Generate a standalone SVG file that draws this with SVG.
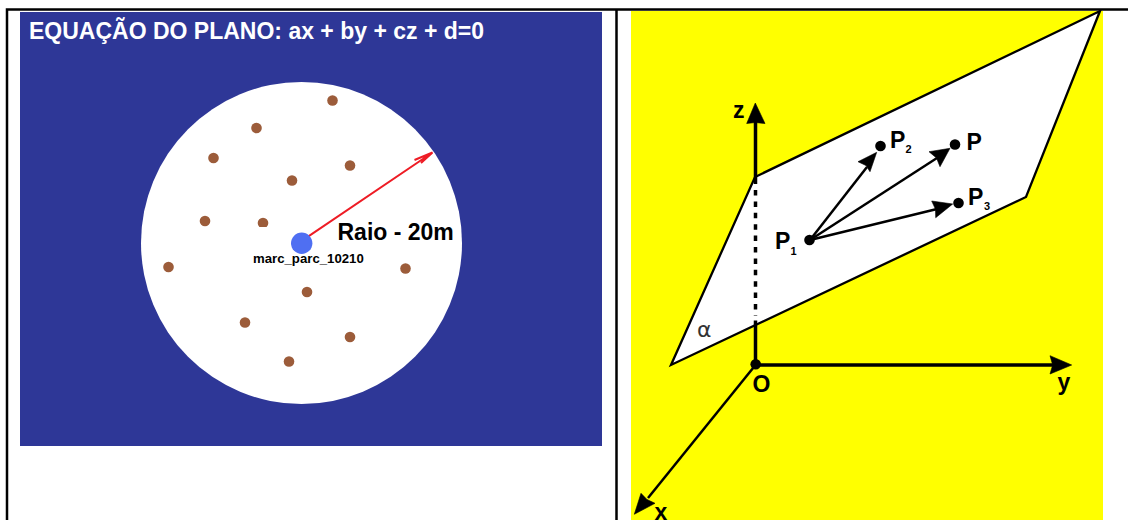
<svg xmlns="http://www.w3.org/2000/svg" width="1128" height="520" viewBox="0 0 1128 520">
<style>
.s{font-family:"Liberation Sans",Arial,sans-serif;font-weight:bold;fill:#000}
.d{fill:#9c5c3a}
.l{stroke:#000;fill:none}
.h{fill:#000;stroke:#000;stroke-width:.6}
</style>
<rect width="1128" height="520" fill="#fff"/>
<g id="table">
<path d="M7 520V9.500H1128M616.500 9.500V520" stroke="#000" stroke-width="2.500" fill="none"/>
</g>
<g id="left-panel">
<rect x="20" y="12" width="582" height="434" fill="#2e3797"/>
<ellipse cx="301.500" cy="243" rx="160.500" ry="161" fill="#fff"/>
<text x="29" y="39" font-size="23" class="s" style="fill:#fff">EQUAÇÃO DO PLANO: ax + by + cz + d=0</text>
</g>
<g id="trees">
<circle class="d" cx="332.500" cy="100.500" r="5.300"/>
<circle class="d" cx="256.500" cy="128" r="5.300"/>
<circle class="d" cx="213.500" cy="158" r="5.300"/>
<circle class="d" cx="350" cy="165.500" r="5.300"/>
<circle class="d" cx="292" cy="180.500" r="5.300"/>
<circle class="d" cx="205" cy="221" r="5.300"/>
<circle class="d" cx="263" cy="223" r="5.300"/>
<rect x="256" y="227" width="14" height="5" fill="#fff"/>
<circle class="d" cx="168.500" cy="267" r="5.300"/>
<circle class="d" cx="405.500" cy="268.500" r="5.300"/>
<circle class="d" cx="307" cy="292" r="5.300"/>
<circle class="d" cx="245" cy="322.500" r="5.300"/>
<circle class="d" cx="350" cy="337" r="5.300"/>
<circle class="d" cx="289" cy="361.500" r="5.300"/>
</g>
<g id="radius">
<path d="M308 236.700L432.500 152.500M414.500 160L432.500 152.500L421 163" stroke="#ee1c25" stroke-width="2" fill="none"/>
</g>
<g id="center">
<circle cx="301.700" cy="243.300" r="10.700" fill="#4f6ff2"/>
<text x="253" y="262.500" font-size="13.200" class="s">marc_parc_10210</text>
<text x="337.500" y="240" font-size="23" class="s">Raio - 20m</text>
</g>
<g id="right-panel">
<rect x="631" y="11" width="472" height="509" fill="#ff0"/>
<path d="M1100 11L1026 197L671 365L755 177Z" fill="#fff" stroke="#000" stroke-width="2.300"/>
</g>
<g id="connectors">
<path class="l" stroke-width="3.500" d="M755.500 184V120"/>
<path class="h" d="M755.300 103L746.700 123.500L755.300 122.500L765 123.500Z"/>
<path class="l" stroke-width="3.500" stroke-dasharray="5.500 5.900" d="M755.500 190V316"/>
<path class="l" stroke-width="3.500" d="M755.500 320.500V365"/>
<path class="l" stroke-width="3.500" d="M755.500 365H1055"/>
<path class="h" d="M1071.700 365L1050 355.700L1052.700 365L1050 374Z"/>
<path class="l" stroke-width="2.500" d="M755.500 365L648 498"/>
<path class="h" d="M634.300 514.300L641 493.300L647 499.500L655 503.300Z"/>
<path class="l" stroke-width="2.500" d="M810 240L867 167"/>
<path class="h" d="M876.700 152.300L858 161.700L866 165.500L870 171.700Z"/>
<path class="l" stroke-width="2.500" d="M810 240L937 158"/>
<path class="h" d="M950 148.300L929 151.700L936.500 158L940 166.700Z"/>
<path class="l" stroke-width="2.500" d="M810 240L937 209"/>
<path class="h" d="M952.700 204L931.700 201L935.500 209.300L935.700 217.700Z"/>
</g>
<g id="points">
<circle cx="755.700" cy="364.300" r="5.300"/>
<circle cx="809.500" cy="240" r="5.300"/>
<circle cx="880.500" cy="146" r="5.300"/>
<circle cx="955" cy="144.500" r="5.300"/>
<circle cx="958.500" cy="203" r="5.300"/>
</g>
<g id="labels">
<text x="733" y="117.500" font-size="23" class="s">z</text>
<text x="890" y="147.500" font-size="23" class="s">P</text>
<text x="905.500" y="152.500" font-size="11" class="s">2</text>
<text x="966.500" y="149.500" font-size="23" class="s">P</text>
<text x="968" y="204.500" font-size="23" class="s">P</text>
<text x="984" y="210" font-size="11" class="s">3</text>
<text x="775" y="249.300" font-size="23" class="s">P</text>
<text x="790.500" y="254.500" font-size="11" class="s">1</text>
<text x="697" y="336.500" font-size="22" font-family="'DejaVu Sans',sans-serif" fill="#333">α</text>
<text x="752.500" y="391.500" font-size="23" class="s">O</text>
<text x="1057.500" y="390" font-size="23" class="s">y</text>
<text x="654.500" y="520" font-size="23" class="s">x</text>
</g>
</svg>
